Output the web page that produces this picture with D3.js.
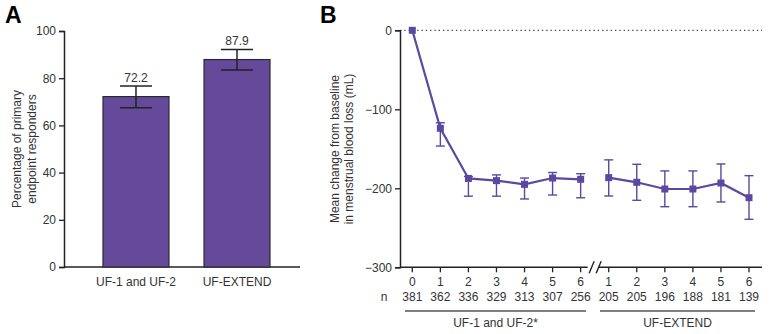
<!DOCTYPE html>
<html><head><meta charset="utf-8">
<script src="https://cdn.jsdelivr.net/npm/d3@7"></script>
<style>body{margin:0;background:#fff}text{font-family:"Liberation Sans",Arial,sans-serif}</style>
</head><body>
<svg id="c" width="770" height="334"></svg>
<script>
// Panel A data
const barCategories = ["UF-1 and UF-2", "UF-EXTEND"];
const barValues = [72.2, 87.9];
const barErrLow = [67.5, 83.5];
const barErrHigh = [76.7, 92.2];
const barTicks = [0, 20, 40, 60, 80, 100];

// Panel B data
const monthLabels = ["0","1","2","3","4","5","6","1","2","3","4","5","6"];
const nLabels = ["381","362","336","329","313","307","256","205","205","196","188","181","139"];
const study = ["A","A","A","A","A","A","A","E","E","E","E","E","E"];
const meanChange = [0, -124, -187.5, -190.3, -195, -187, -188.6, -186.5, -192.4, -200.9, -200.9, -193.3, -211.9];
const errUpper = [0, -117, -185, -183, -187, -180, -181.5, -164, -169.6, -178, -178, -169.2, -184];
const errLower = [0, -146.5, -210, -210, -213.5, -208.5, -212, -209.7, -215.2, -223.3, -223.3, -217.3, -239.2];
const lineTicks = [0, -100, -200, -300];
const groupLabels = ["UF-1 and UF-2*", "UF-EXTEND"];

const svg = d3.select("#c");
const purple = "#654a9c";
const lineCol = "#5b48a0";
const txt = "#333";
const fs = 12;

// ---------- Panel A ----------
svg.append("text").attr("x",5).attr("y",23).attr("font-size",23).attr("font-weight","bold").attr("fill","#000").text("A");
const yA = d3.scaleLinear().domain([0,100]).range([267,31]);
const xA = d3.scaleBand().domain(barCategories).range([64,309]).paddingInner(0.347).paddingOuter(0.386);
const gA = svg.append("g");
const axA = gA.append("g").attr("transform","translate(64,0)")
  .call(d3.axisLeft(yA).tickValues(barTicks).tickSize(5).tickPadding(3));
axA.select(".domain").attr("stroke","#222").attr("stroke-width",1.5);
axA.selectAll(".tick line").attr("stroke","#222").attr("stroke-width",1.3);
axA.selectAll(".tick text").attr("font-size",fs).attr("fill",txt).style("font-family","Liberation Sans, Arial");
gA.append("line").attr("x1",64).attr("x2",300).attr("y1",yA(0)).attr("y2",yA(0)).attr("stroke","#222").attr("stroke-width",1.5);
gA.selectAll("rect.bar").data(barValues).join("rect")
  .attr("x",(d,i)=>xA(barCategories[i])).attr("width",xA.bandwidth())
  .attr("y",d=>yA(d)).attr("height",d=>yA(0)-yA(d))
  .attr("fill",purple).attr("stroke","#2a2a2a").attr("stroke-width",1.2);
barValues.forEach((v,i)=>{
  const cx = xA(barCategories[i]) + xA.bandwidth()/2;
  gA.append("line").attr("x1",cx).attr("x2",cx).attr("y1",yA(barErrHigh[i])).attr("y2",yA(barErrLow[i])).attr("stroke","#222").attr("stroke-width",1.5);
  [barErrHigh[i], barErrLow[i]].forEach(e=>{
    gA.append("line").attr("x1",cx-16).attr("x2",cx+16).attr("y1",yA(e)).attr("y2",yA(e)).attr("stroke","#222").attr("stroke-width",1.5);
  });
  gA.append("text").attr("x",cx).attr("y",yA(barErrHigh[i])-4).attr("text-anchor","middle").attr("font-size",fs).attr("fill",txt).text(v.toFixed(1));
  gA.append("text").attr("x",cx).attr("y",286).attr("text-anchor","middle").attr("font-size",fs).attr("fill",txt).text(barCategories[i]);
});
const yLabA = gA.append("text").attr("transform","translate(21,149) rotate(-90)").attr("text-anchor","middle").attr("font-size",fs).attr("fill",txt);
yLabA.append("tspan").attr("x",0).attr("dy",0).text("Percentage of primary");
yLabA.append("tspan").attr("x",0).attr("dy",14.5).text("endpoint responders");

// ---------- Panel B ----------
svg.append("text").attr("x",320).attr("y",23).attr("font-size",23).attr("font-weight","bold").attr("fill","#000").text("B");
const yB = d3.scaleLinear().domain([-300,0]).range([267.3,30.3]);
const xB = d3.scaleLinear().domain([0,12]).range([412.3,749]);
const gB = svg.append("g");
// dotted zero line
gB.append("line").attr("x1",400).attr("x2",762).attr("y1",yB(0)).attr("y2",yB(0))
  .attr("stroke","#444").attr("stroke-width",1.3).attr("stroke-dasharray","1.3,3");
const axB = gB.append("g").attr("transform","translate(400,0)")
  .call(d3.axisLeft(yB).tickValues(lineTicks).tickSize(5).tickPadding(3).tickFormat(d=>d===0?"0":"\u2212"+Math.abs(d)));
axB.select(".domain").attr("stroke","#222").attr("stroke-width",1.5);
axB.selectAll(".tick line").attr("stroke","#222").attr("stroke-width",1.3);
axB.selectAll(".tick text").attr("font-size",fs).attr("fill",txt);
// x axis (broken)
const ax0 = yB(-300);
gB.append("line").attr("x1",400).attr("x2",xB(6)+7).attr("y1",ax0).attr("y2",ax0).attr("stroke","#222").attr("stroke-width",1.5);
gB.append("line").attr("x1",xB(7)-10).attr("x2",762).attr("y1",ax0).attr("y2",ax0).attr("stroke","#222").attr("stroke-width",1.5);
// break marks
[xB(6)+11, xB(6)+18].forEach(bx=>{
  gB.append("line").attr("x1",bx-2.5).attr("x2",bx+2.5).attr("y1",ax0+6).attr("y2",ax0-6).attr("stroke","#222").attr("stroke-width",1.4);
});
monthLabels.forEach((m,i)=>{
  const x = xB(i);
  gB.append("line").attr("x1",x).attr("x2",x).attr("y1",ax0).attr("y2",ax0+5).attr("stroke","#222").attr("stroke-width",1.3);
  gB.append("text").attr("x",x).attr("y",286).attr("text-anchor","middle").attr("font-size",fs).attr("fill",txt).text(m);
  gB.append("text").attr("x",x).attr("y",301).attr("text-anchor","middle").attr("font-size",fs).attr("fill",txt).text(nLabels[i]);
});
gB.append("text").attr("x",384).attr("y",301).attr("text-anchor","middle").attr("font-size",fs).attr("fill",txt).text("n");
// group lines
[[405,586],[600,755]].forEach((r,i)=>{
  gB.append("line").attr("x1",r[0]).attr("x2",r[1]).attr("y1",311).attr("y2",311).attr("stroke","#555").attr("stroke-width",1.3);
  gB.append("text").attr("x",(r[0]+r[1])/2).attr("y",327).attr("text-anchor","middle").attr("font-size",fs).attr("fill",txt).text(groupLabels[i]);
});
// y label
const yLabB = gB.append("text").attr("transform","translate(339,149) rotate(-90)").attr("text-anchor","middle").attr("font-size",fs).attr("fill",txt);
yLabB.append("tspan").attr("x",0).attr("dy",0).text("Mean change from baseline");
yLabB.append("tspan").attr("x",0).attr("dy",14).text("in menstrual blood loss (mL)");
// lines per study
const idx = d3.range(meanChange.length);
const line = d3.line().x(i=>xB(i)).y(i=>yB(meanChange[i]));
["A","E"].forEach(s=>{
  const pts = idx.filter(i=>study[i]===s);
  gB.append("path").attr("d",line(pts)).attr("fill","none").attr("stroke",lineCol).attr("stroke-width",2.2);
});
// error bars
idx.forEach(i=>{
  if (errUpper[i]===errLower[i]) return;
  const x = xB(i);
  gB.append("line").attr("x1",x).attr("x2",x).attr("y1",yB(errUpper[i])).attr("y2",yB(errLower[i])).attr("stroke",lineCol).attr("stroke-width",1.4);
  [errUpper[i],errLower[i]].forEach(e=>{
    gB.append("line").attr("x1",x-4.5).attr("x2",x+4.5).attr("y1",yB(e)).attr("y2",yB(e)).attr("stroke",lineCol).attr("stroke-width",1.4);
  });
});
// markers
gB.selectAll("rect.mk").data(idx).join("rect")
  .attr("x",i=>xB(i)-3.5).attr("y",i=>yB(meanChange[i])-3.5).attr("width",7).attr("height",7).attr("fill",lineCol);
</script>
</body></html>
